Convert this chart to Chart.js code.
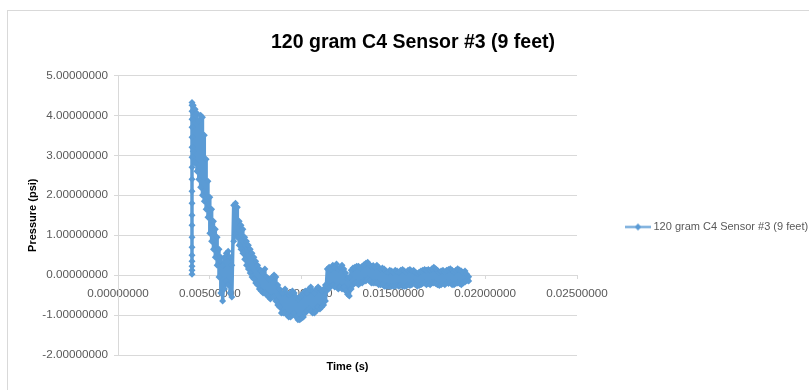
<!DOCTYPE html>
<html>
<head>
<meta charset="utf-8">
<script src="https://cdn.jsdelivr.net/npm/chart.js@4.4.1/dist/chart.umd.min.js"></script>
<style>
  html, body { margin: 0; padding: 0; background: #ffffff; }
  #wrap { width: 809px; height: 390px; position: relative; }
</style>
</head>
<body>
<div id="wrap"><canvas id="c" width="809" height="390"></canvas></div>
<script>
// ---- Data ----
const chartTitle = '120 gram C4 Sensor #3 (9 feet)';
const seriesName = '120 gram C4 Sensor #3 (9 feet)';
const xTitle = 'Time (s)';
const yTitle = 'Pressure (psi)';

// Initial pressure jump (all samples at the same time stamp)
const riseTime = 0.00403;
const riseValues = [0.02, 0.12, 0.22, 0.35, 0.5, 0.7, 0.95, 1.25, 1.5, 1.8, 2.1, 2.4, 2.7, 2.95, 3.2, 3.45, 3.7, 3.9, 4.1, 4.25, 4.32];

// Sample times (s)
const times = [
  0.0041,0.0042,0.0043,0.0044,0.0045,0.0046,0.0047,0.0048,0.0049,0.0050,
  0.0051,0.0052,0.0053,0.0054,0.0055,0.0056,0.0057,0.0058,0.0059,0.0060,
  0.0061,0.0062,0.0063,0.0064,0.0065,0.0066,0.0067,0.0068,0.0069,0.0070,
  0.0071,0.0072,0.0073,0.0074,0.0075,0.0076,0.0077,0.0078,0.0079,0.0080,
  0.0081,0.0082,0.0083,0.0084,0.0085,0.0086,0.0087,0.0088,0.0089,0.0090,
  0.0091,0.0092,0.0093,0.0094,0.0095,0.0096,0.0097,0.0098,0.0099,0.0100,
  0.0101,0.0102,0.0103,0.0104,0.0105,0.0106,0.0107,0.0108,0.0109,0.0110,
  0.0111,0.0112,0.0113,0.0114,0.0115,0.0116,0.0117,0.0118,0.0119,0.0120,
  0.0121,0.0122,0.0123,0.0124,0.0125,0.0126,0.0127,0.0128,0.0129,0.0130,
  0.0131,0.0132,0.0133,0.0134,0.0135,0.0136,0.0137,0.0138,0.0139,0.0140,
  0.0141,0.0142,0.0143,0.0144,0.0145,0.0146,0.0147,0.0148,0.0149,0.0150,
  0.0151,0.0152,0.0153,0.0154,0.0155,0.0156,0.0157,0.0158,0.0159,0.0160,
  0.0161,0.0162,0.0163,0.0164,0.0165,0.0166,0.0167,0.0168,0.0169,0.0170,
  0.0171,0.0172,0.0173,0.0174,0.0175,0.0176,0.0177,0.0178,0.0179,0.0180,
  0.0181,0.0182,0.0183,0.0184,0.0185,0.0186,0.0187,0.0188,0.0189,0.0190,
  0.0191
];

// Noisy signal: high swing and low swing sampled at each time
const highValues = [
  4.25,4.15,4.05,3.85,4.0,3.95,3.5,2.9,2.35,1.95,
  1.65,1.35,1.15,0.95,0.65,0.45,0.25,0.45,0.55,0.6,
  0.45,0.25,1.75,1.8,1.7,1.35,1.25,1.15,0.95,0.85,
  0.75,0.65,0.55,0.45,0.35,0.25,0.15,0.1,0.05,0.15,
  -0.05,-0.1,-0.1,-0.05,0.0,-0.05,-0.25,-0.35,-0.45,-0.45,
  -0.35,-0.45,-0.5,-0.45,-0.4,-0.45,-0.55,-0.6,-0.55,-0.5,
  -0.45,-0.4,-0.45,-0.35,-0.3,-0.4,-0.45,-0.35,-0.3,-0.35,
  -0.4,-0.35,-0.25,0.15,0.2,0.15,0.25,0.2,0.28,0.15,
  0.2,0.25,0.15,0.05,-0.08,-0.05,0.12,0.18,0.2,0.22,
  0.22,0.18,0.22,0.26,0.3,0.32,0.26,0.22,0.24,0.2,
  0.25,0.2,0.15,0.18,0.15,0.1,0.07,0.12,0.1,0.07,
  0.12,0.1,0.07,0.12,0.14,0.1,0.07,0.12,0.14,0.1,
  0.12,0.07,0.04,0.07,0.1,0.12,0.14,0.12,0.14,0.12,
  0.16,0.2,0.16,0.12,0.07,0.1,0.12,0.07,0.12,0.14,
  0.16,0.12,0.07,0.12,0.16,0.13,0.1,0.06,0.1,0.02,
  -0.04
];
const lowValues = [
  3.1,2.8,2.6,2.4,2.2,2.0,1.85,1.65,1.45,1.05,
  0.85,0.65,0.45,0.25,-0.05,-0.45,-0.65,-0.35,-0.15,-0.25,
  -0.45,-0.55,0.85,1.05,0.95,0.75,0.65,0.55,0.4,0.25,
  0.15,0.05,-0.05,-0.1,-0.2,-0.25,-0.35,-0.4,-0.45,-0.45,
  -0.5,-0.55,-0.6,-0.55,-0.55,-0.65,-0.75,-0.8,-0.95,-0.95,
  -0.95,-1.0,-1.05,-1.05,-1.0,-0.95,-1.05,-1.12,-1.12,-1.08,
  -1.05,-0.95,-0.9,-0.85,-0.9,-0.95,-0.95,-0.9,-0.8,-0.85,
  -0.8,-0.75,-0.65,-0.38,-0.33,-0.28,-0.25,-0.3,-0.3,-0.35,
  -0.3,-0.35,-0.3,-0.4,-0.48,-0.52,-0.35,-0.25,-0.2,-0.2,
  -0.24,-0.2,-0.2,-0.15,-0.15,-0.1,-0.15,-0.2,-0.2,-0.2,
  -0.2,-0.24,-0.24,-0.24,-0.28,-0.28,-0.28,-0.28,-0.28,-0.28,
  -0.28,-0.26,-0.28,-0.26,-0.28,-0.28,-0.28,-0.24,-0.26,-0.24,
  -0.2,-0.24,-0.28,-0.26,-0.24,-0.21,-0.2,-0.24,-0.21,-0.24,
  -0.2,-0.2,-0.21,-0.24,-0.26,-0.24,-0.21,-0.24,-0.2,-0.21,
  -0.2,-0.24,-0.24,-0.21,-0.2,-0.21,-0.24,-0.2,-0.17,-0.14,
  -0.15
];

// Axis ranges / ticks
const xMin = 0, xMax = 0.025, xStep = 0.005;
const yMin = -2, yMax = 5, yStep = 1;
const tickDecimals = 8;

// ---- Build the point table ----
const points = [];
riseValues.forEach(v => points.push({x: riseTime, y: v}));
times.forEach((t, i) => {
  points.push({x: t, y: highValues[i]});
  points.push({x: t, y: lowValues[i]});
});

const BLUE = '#5B9BD5';
const GRID = '#D9D9D9';
const LABEL = '#595959';
const FONT = "'Liberation Sans', Arial, sans-serif";

// Legend icon: line with diamond marker
const icon = document.createElement('canvas');
icon.width = 26; icon.height = 9;
(function () {
  const g = icon.getContext('2d');
  g.strokeStyle = BLUE; g.lineWidth = 2;
  g.beginPath(); g.moveTo(0, 4.5); g.lineTo(26, 4.5); g.stroke();
  g.fillStyle = BLUE;
  g.beginPath(); g.moveTo(13, 1); g.lineTo(16.5, 4.5); g.lineTo(13, 8); g.lineTo(9.5, 4.5); g.closePath(); g.fill();
})();

const frame = {
  id: 'frame',
  beforeDraw(chart) {
    const c = chart.ctx;
    c.save();
    c.fillStyle = '#ffffff';
    c.fillRect(0, 0, chart.width, chart.height);
    c.strokeStyle = GRID;
    c.lineWidth = 1;
    c.strokeRect(7.5, 10.5, 830, 420);
    c.restore();
  }
};

new Chart(document.getElementById('c'), {
  type: 'scatter',
  data: {
    datasets: [{
      label: seriesName,
      data: points,
      showLine: true,
      borderColor: BLUE,
      backgroundColor: BLUE,
      borderWidth: 3.5,
      borderJoinStyle: 'round',
      borderCapStyle: 'round',
      pointStyle: 'rectRot',
      pointRadius: 3.5,
      pointBorderWidth: 0,
      pointHoverRadius: 3.5,
      tension: 0
    }]
  },
  options: {
    responsive: false,
    animation: false,
    events: [],
    layout: { padding: { left: 17, right: 0, top: 0, bottom: 0 } },
    plugins: {
      title: {
        display: true,
        text: chartTitle,
        color: '#000000',
        font: { family: FONT, size: 19.5, weight: 'bold', lineHeight: 1.2 },
        padding: { top: 31, bottom: 21 }
      },
      legend: {
        display: true,
        position: 'right',
        maxWidth: 232,
        title: { display: true, text: ' ', font: { size: 10, lineHeight: 0.2 }, padding: { top: 62, bottom: 0 } },
        labels: {
          usePointStyle: true,
          pointStyle: icon,
          pointStyleWidth: 20,
          padding: 51,
          color: LABEL,
          font: { family: FONT, size: 11 }
        }
      },
      tooltip: { enabled: false }
    },
    scales: {
      x: {
        type: 'linear',
        position: { y: 0 },
        z: 1,
        min: xMin, max: xMax,
        ticks: {
          stepSize: xStep,
          color: LABEL,
          font: { family: FONT, size: 11.7 },
          padding: 8,
          maxRotation: 0,
          autoSkip: false,
          callback: v => Number(v).toFixed(tickDecimals)
        },
        grid: { display: true, drawOnChartArea: false, color: GRID, tickLength: 4 },
        border: { display: false }
      },
      x2: {
        type: 'linear',
        position: 'bottom',
        min: xMin, max: xMax,
        ticks: { display: false },
        grid: { display: false },
        border: { display: false },
        title: {
          display: true,
          text: xTitle,
          color: '#000000',
          font: { family: FONT, size: 11, weight: 'bold', lineHeight: 1.2 },
          padding: { top: 0, bottom: 16 }
        },
        afterFit(scale) { scale.height = 35; }
      },
      y: {
        type: 'linear',
        position: 'left',
        min: yMin, max: yMax,
        ticks: {
          stepSize: yStep,
          color: LABEL,
          font: { family: FONT, size: 11.7 },
          padding: 6,
          callback: v => Number(v).toFixed(tickDecimals)
        },
        grid: { display: true, color: GRID, tickColor: GRID, tickLength: 4 },
        border: { display: true, color: GRID, width: 1 },
        title: {
          display: true,
          text: yTitle,
          color: '#000000',
          font: { family: FONT, size: 11, weight: 'bold', lineHeight: 1.2 },
          padding: { top: 9.5, bottom: 0 }
        },
        afterFit(scale) { scale.width = 101; }
      }
    }
  },
  plugins: [frame]
});
</script>
</body>
</html>
